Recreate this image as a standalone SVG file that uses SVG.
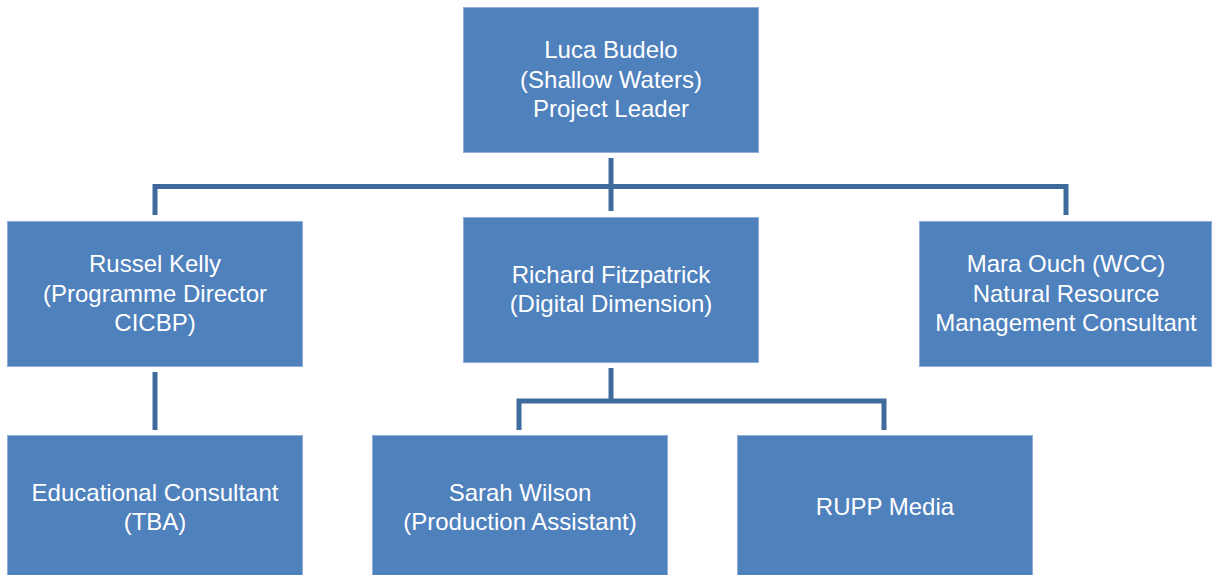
<svg xmlns="http://www.w3.org/2000/svg" width="1212" height="575" viewBox="0 0 1212 575">
<style>
.box{fill:#4F81BD;stroke:#8FAEDA;stroke-width:1}
.lbl{font-family:"Liberation Sans",Arial,sans-serif;font-size:24px;fill:#FFFFFF;text-anchor:middle}
.conn{fill:none;stroke:#3F6A9C;stroke-width:5;stroke-linejoin:miter}
</style>
<rect width="1212" height="575" fill="#FFFFFF"/>
<g id="connectors">
<path class="conn" d="M611,158 V211"/>
<path class="conn" d="M155,215 V186.5 H1066 V215"/>
<path class="conn" d="M155,372 V430"/>
<path class="conn" d="M611,368 V401"/>
<path class="conn" d="M519,430 V401 H884 V430"/>
</g>
<g id="luca">
<rect class="box" x="463.5" y="7.5" width="295" height="145"/>
<text class="lbl" x="611" y="58">Luca Budelo</text>
<text class="lbl" x="611" y="87.5">(Shallow Waters)</text>
<text class="lbl" x="611" y="117">Project Leader</text>
</g>
<g id="russel">
<rect class="box" x="7.5" y="221.5" width="295" height="145"/>
<text class="lbl" x="155" y="272">Russel Kelly</text>
<text class="lbl" x="155" y="301.5">(Programme Director</text>
<text class="lbl" x="155" y="331">CICBP)</text>
</g>
<g id="richard">
<rect class="box" x="463.5" y="217.5" width="295" height="145"/>
<text class="lbl" x="611" y="282.5">Richard Fitzpatrick</text>
<text class="lbl" x="611" y="311.5">(Digital Dimension)</text>
</g>
<g id="mara">
<rect class="box" x="919.5" y="221.5" width="292" height="145"/>
<text class="lbl" x="1066" y="272">Mara Ouch (WCC)</text>
<text class="lbl" x="1066" y="301.5">Natural Resource</text>
<text class="lbl" x="1066" y="331">Management Consultant</text>
</g>
<g id="educational">
<rect class="box" x="7.5" y="435.5" width="295" height="145"/>
<text class="lbl" x="155" y="500.5">Educational Consultant</text>
<text class="lbl" x="155" y="530">(TBA)</text>
</g>
<g id="sarah">
<rect class="box" x="372.5" y="435.5" width="295" height="145"/>
<text class="lbl" x="520" y="500.5">Sarah Wilson</text>
<text class="lbl" x="520" y="530">(Production Assistant)</text>
</g>
<g id="rupp">
<rect class="box" x="737.5" y="435.5" width="295" height="145"/>
<text class="lbl" x="885" y="515">RUPP Media</text>
</g>
</svg>
